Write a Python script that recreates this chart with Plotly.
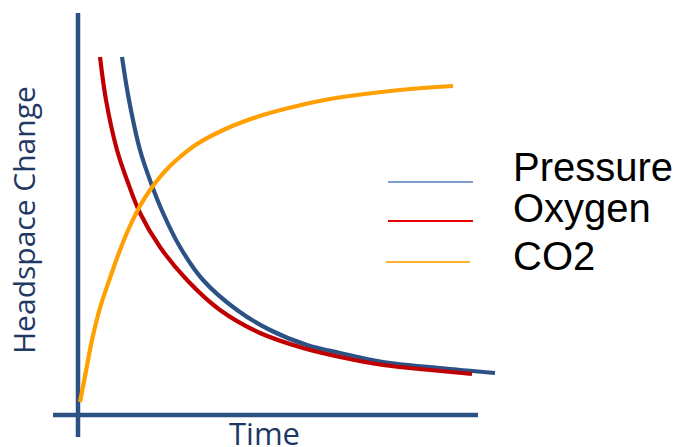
import plotly.graph_objects as go

# ---- data (time units, arbitrary headspace-change units) ----
series_names = ["Pressure", "Oxygen", "CO2"]

pressure_x = [1.10, 1.275, 1.55, 1.825, 2.125, 2.55, 3.125, 3.975, 4.80, 5.725, 6.55, 7.625, 9.05, 10.425]
pressure_y = [8.95, 7.875, 6.625, 5.80, 5.05, 4.20, 3.375, 2.625, 2.125, 1.75, 1.55, 1.325, 1.175, 1.05]

oxygen_x = [0.55, 0.70, 0.975, 1.225, 1.55, 2.05, 2.725, 3.55, 4.55, 5.625, 6.55, 7.625, 8.80, 9.85]
oxygen_y = [8.95, 7.875, 6.625, 5.875, 5.05, 4.20, 3.375, 2.625, 2.05, 1.675, 1.45, 1.25, 1.125, 1.025]

co2_x = [0.05, 0.2, 0.35, 0.55, 0.8, 1.05, 1.3, 1.55, 1.8, 2.05, 2.3, 2.55, 2.975,
         3.8, 4.625, 5.475, 6.3, 8.05, 9.375]
co2_y = [0.325, 1.1, 1.875, 2.675, 3.425, 4.125, 4.725, 5.225, 5.625, 5.95, 6.225, 6.45, 6.775,
         7.2, 7.5, 7.725, 7.9, 8.125, 8.225]

x_title = "Time"
y_title = "Headspace Change"

# ---- styles ----
AXIS_COLOR = "#2b5185"
TEXT_COLOR = "#1f3864"
curve_colors = ["#2b5185", "#c00000", "#ff9f00"]
legend_colors = ["#7f9fd0", "#e80000", "#ffb030"]

W, H = 685, 447

fig = go.Figure()
for xs, ys, c, n in zip([pressure_x, oxygen_x, co2_x],
                        [pressure_y, oxygen_y, co2_y],
                        curve_colors, series_names):
    fig.add_trace(go.Scatter(x=xs, y=ys, mode="lines", name=n,
                             line=dict(color=c, width=4.2, shape="spline", smoothing=1.0),
                             showlegend=False, hoverinfo="skip"))

# axis lines (crossing, like a hand-drawn chart)
fig.add_shape(type="line", xref="x", yref="y", x0=-0.625, x1=10.0, y0=0, y1=0,
              line=dict(color=AXIS_COLOR, width=4.5), layer="below")
fig.add_shape(type="line", xref="x", yref="y", x0=0, x1=0, y0=-0.55, y1=10.05,
              line=dict(color=AXIS_COLOR, width=4.5), layer="below")

# manual legend
leg_line_y = [182, 221, 262]
leg_line_x = [(388, 473), (388, 473), (386, 470)]
leg_text_y = [167, 208, 256]
for name, col, ly, (lx0, lx1), ty in zip(series_names, legend_colors, leg_line_y, leg_line_x, leg_text_y):
    fig.add_shape(type="line", xref="paper", yref="paper",
                  x0=lx0 / W, x1=lx1 / W, y0=1 - ly / H, y1=1 - ly / H,
                  line=dict(color=col, width=2))
    fig.add_annotation(text=name, xref="paper", yref="paper", x=511 / W, y=1 - ty / H,
                       xanchor="left", yanchor="middle", showarrow=False,
                       font=dict(family="Liberation Sans, Arial", size=40, color="#000000"))

# axis titles
fig.add_annotation(text=y_title, xref="paper", yref="paper", x=23 / W, y=1 - 220 / H,
                   textangle=-90, showarrow=False, xanchor="center", yanchor="middle",
                   font=dict(family="Open Sans", size=30, color=TEXT_COLOR))
fig.add_annotation(text=x_title, xref="paper", yref="paper", x=264 / W, y=1 - 433 / H,
                   showarrow=False, xanchor="center", yanchor="middle",
                   font=dict(family="Open Sans", size=31, color=TEXT_COLOR))

fig.update_layout(
    width=W, height=H,
    margin=dict(l=0, r=0, t=0, b=0),
    paper_bgcolor="white", plot_bgcolor="white",
    xaxis=dict(range=[-1.95, 15.175], visible=False, fixedrange=True),
    yaxis=dict(range=[-0.8, 10.375], visible=False, fixedrange=True),
)

fig.write_html("out.html",
               config={"displayModeBar": False, "staticPlot": True},
               post_script="document.body.style.margin='0';document.body.style.overflow='hidden';")
